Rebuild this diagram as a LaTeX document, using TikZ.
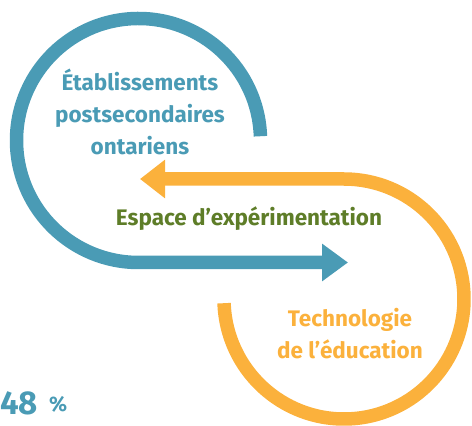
\documentclass[tikz,border=0pt]{standalone}
\usepackage{fontspec}
\setmainfont{Fira Sans}
\usetikzlibrary{arrows.meta}
\definecolor{cblue}{RGB}{74,155,181}
\definecolor{corange}{RGB}{251,177,60}
\definecolor{cgreen}{RGB}{94,125,40}
\begin{document}
\begin{tikzpicture}[x=1pt,y=1pt,
  band/.style={line width=13.5pt},
  lbl/.style={font=\fontsize{22.5}{32}\selectfont\bfseries, align=center, inner sep=0pt}]
\useasboundingbox (0,0) rectangle (472,426);
% blue loop
\coordinate (bstart) at (260.43,289.76);
\coordinate (btip) at (348,163.5);
\draw[band, cblue, -{Triangle[length=26pt,width=36pt]}]
  (bstart) arc[start angle=2,end angle=270,radius=122] -- (btip);
% orange loop
\coordinate (ostart) at (224.07,122.81);
\coordinate (otip) at (140,247);
\draw[band, corange, -{Triangle[length=25pt,width=37pt]}]
  (ostart) arc[start angle=182,end angle=450,radius=120] -- (otip);
% labels
\node[lbl, text=cblue] (etab) at (140,314) {Établissements\\postsecondaires\\ontariens};
\node[lbl, text=cgreen] (esp) at (249,207) {Espace d’expérimentation};
\node[lbl, text=corange] (tech) at (350,92) {Technologie\\de l’éducation};
\node[font=\fontsize{33}{33}\selectfont\bfseries, text=cblue, inner sep=0pt, anchor=base west] (num) at (0,11) {48};
\node[font=\fontsize{21}{21}\selectfont\bfseries, text=cblue, inner sep=0pt, anchor=base west] (pct) at (49,14) {\%};
\end{tikzpicture}
\end{document}
